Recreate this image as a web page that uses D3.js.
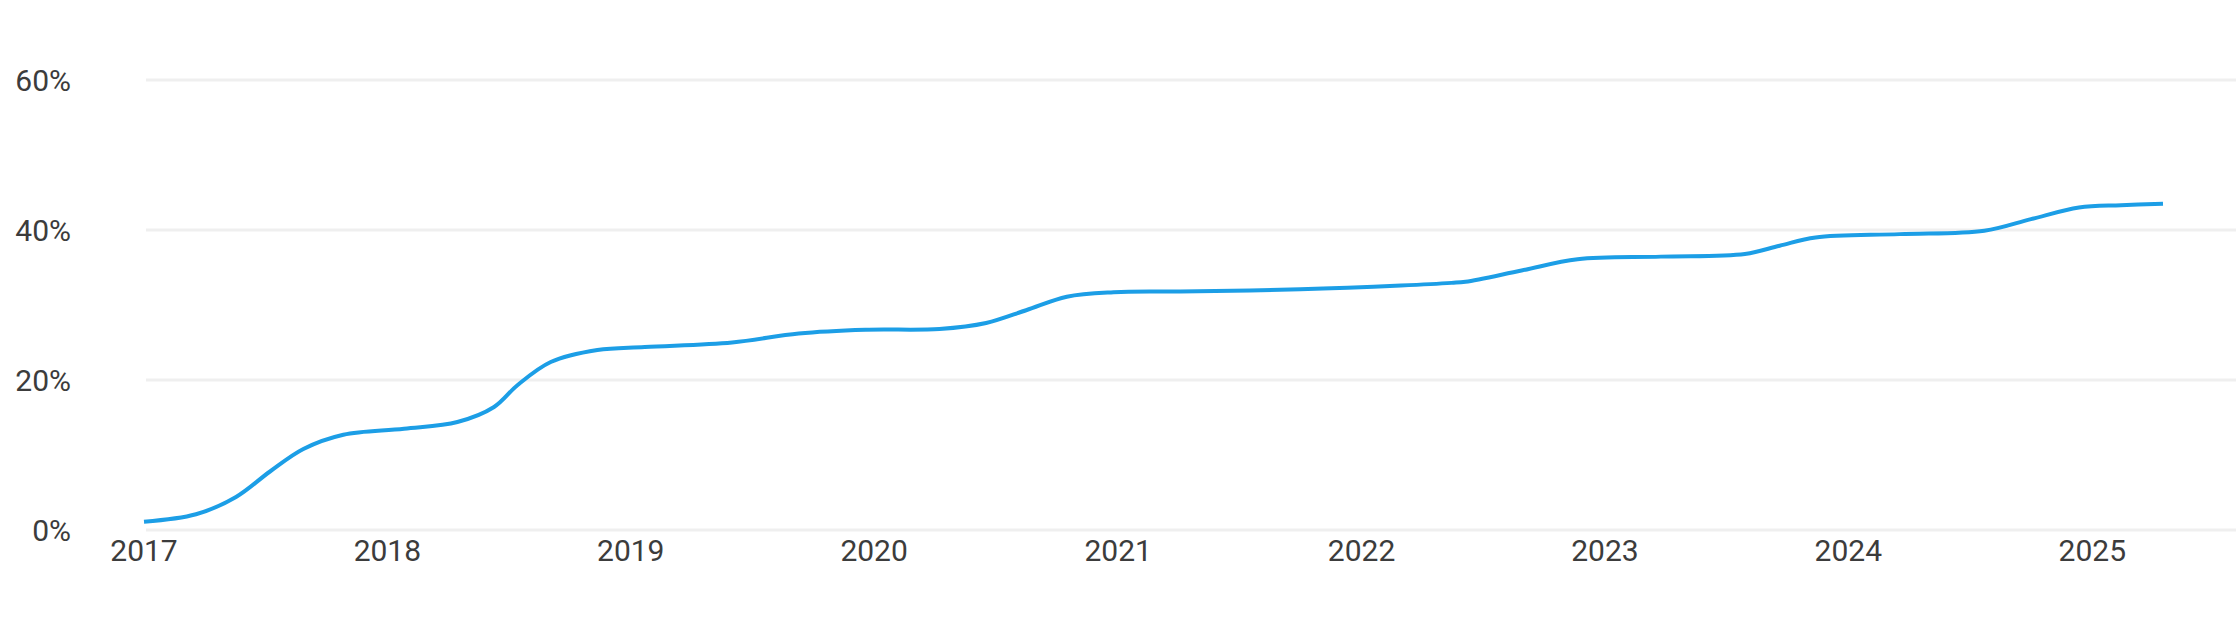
<!DOCTYPE html>
<html>
<head>
<meta charset="utf-8">
<script src="https://cdn.jsdelivr.net/npm/d3@7"></script>
<style>
  html, body { margin: 0; padding: 0; background: #ffffff; }
  svg { display: block; }
  text { font-family: Roboto, "Noto Sans", sans-serif; }
</style>
</head>
<body>
<svg id="chart" width="2236" height="634"></svg>
<script>
// ---- data ----
const dates = [
  "2017-01-01","2017-03-20","2017-05-19","2017-07-09","2017-08-28","2017-10-27",
  "2018-01-26","2018-04-16","2018-06-10","2018-07-15","2018-09-03","2018-11-12",
  "2019-01-22","2019-06-02","2019-09-10","2019-12-19","2020-04-08","2020-06-17",
  "2020-08-16","2020-10-16","2020-12-25","2021-04-04","2021-10-01","2022-03-01",
  "2022-05-16","2022-06-06","2022-08-29","2022-11-21","2023-03-26","2023-07-30",
  "2023-09-20","2023-11-13","2024-03-18","2024-07-23","2024-10-01","2024-12-12",
  "2025-02-13","2025-04-17"
];
const values = [
  1.1, 2.1, 4.4, 7.8, 10.8, 12.7,
  13.5, 14.4, 16.4, 19.3, 22.4, 24.0,
  24.4, 25.0, 26.2, 26.7, 26.8, 27.6,
  29.3, 31.1, 31.7, 31.8, 32.1, 32.6,
  32.95, 33.1, 34.6, 36.1, 36.45, 36.8,
  37.9, 39.0, 39.45, 39.9, 41.45, 43.0,
  43.3, 43.5
];
const yTicks = [0, 20, 40, 60];
const xTickYears = ["2017","2018","2019","2020","2021","2022","2023","2024","2025"];

// ---- layout ----
const W = 2236, H = 634;
const plotLeft = 144, plotRight = 2163;
const gridLeft = 146, gridRight = 2236;
const yTop = 80, yBottom = 530;

const parse = d3.utcParse("%Y-%m-%d");
const data = dates.map((d, i) => ({ date: parse(d), value: values[i] }));

const x = d3.scaleUtc()
  .domain(d3.extent(data, d => d.date))
  .range([plotLeft, plotRight]);
const y = d3.scaleLinear().domain([0, 60]).range([yBottom, yTop]);

const svg = d3.select("#chart");

// grid lines
svg.append("g").selectAll("line").data(yTicks).join("line")
  .attr("x1", gridLeft).attr("x2", gridRight)
  .attr("y1", d => y(d)).attr("y2", d => y(d))
  .attr("stroke", "#efefef").attr("stroke-width", 3);

// y labels
svg.append("g").selectAll("text").data(yTicks).join("text")
  .attr("x", 71).attr("y", d => y(d))
  .attr("dy", "0.355em")
  .attr("text-anchor", "end")
  .attr("font-size", 30).attr("font-weight", 400)
  .attr("fill", "#3c3c3c")
  .text(d => d + "%");

// x labels
const xTickDates = xTickYears.map(yr => parse(yr + "-01-01"));
svg.append("g").selectAll("text").data(xTickDates).join("text")
  .attr("x", d => x(d)).attr("y", 561)
  .attr("text-anchor", "middle")
  .attr("font-size", 30).attr("font-weight", 400)
  .attr("fill", "#3c3c3c")
  .text((d, i) => xTickYears[i]);

// line
const line = d3.line()
  .x(d => x(d.date))
  .y(d => y(d.value))
  .curve(d3.curveCatmullRom.alpha(0.5));

svg.append("path").datum(data)
  .attr("d", line)
  .attr("fill", "none")
  .attr("stroke", "#1c9ee6")
  .attr("stroke-width", 4)
  .attr("stroke-linejoin", "round");
</script>
</body>
</html>
